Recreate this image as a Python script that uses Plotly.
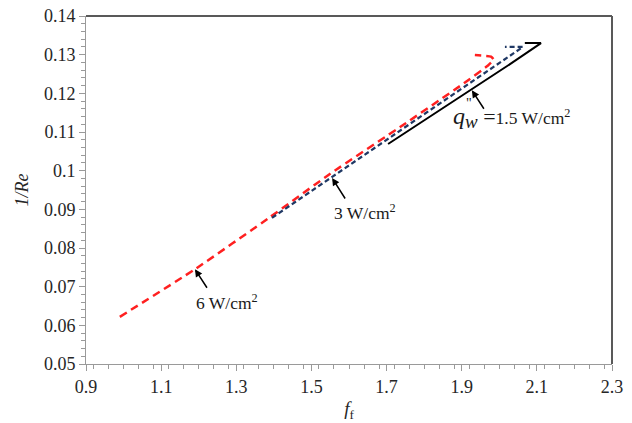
import plotly.graph_objects as go

# friction factor f_f vs 1/Re for three wall heat fluxes
ff_15 = [1.704, 1.80, 1.927, 2.02, 2.111, 2.068]
inv_re_15 = [0.1069, 0.1130, 0.1211, 0.1270, 0.1330, 0.1330]

ff_3 = [1.395, 1.555, 1.70, 1.85, 1.97, 2.063, 2.015]
inv_re_3 = [0.0878, 0.0984, 0.1080, 0.1179, 0.1258, 0.1320, 0.1320]

ff_6 = [0.99, 1.19, 1.39, 1.55, 1.744, 1.90, 1.97, 1.985, 1.978, 1.935]
inv_re_6 = [0.0622, 0.0745, 0.0880, 0.0992, 0.1118, 0.1222, 0.1272, 0.1287, 0.1295, 0.1299]

FONT = "Liberation Serif"

fig = go.Figure()
fig.add_trace(go.Scatter(x=ff_6, y=inv_re_6, mode="lines",
                         line=dict(color="#ff2020", width=2.5, dash="8px,5px", shape="spline", smoothing=0.4)))
fig.add_trace(go.Scatter(x=ff_3, y=inv_re_3, mode="lines",
                         line=dict(color="#1f3864", width=2.2, dash="5px,3px")))
fig.add_trace(go.Scatter(x=ff_15, y=inv_re_15, mode="lines",
                         line=dict(color="black", width=2)))

axis_common = dict(
    showgrid=False, zeroline=False, showline=True, linecolor="#9a9a9a", linewidth=1,
    ticks="outside", ticklen=6, tickcolor="#9a9a9a", automargin=False,
    tickfont=dict(family=FONT, size=18, color="#262626"),
)
fig.update_xaxes(range=[0.9, 2.3], tick0=0.9, dtick=0.2,
                 minor=dict(dtick=0.04, ticks="outside", ticklen=4, tickcolor="#9a9a9a"),
                 title=dict(text="<i>f</i><sub>f</sub>", font=dict(family=FONT, size=19, color="#262626"), standoff=6),
                 **axis_common)
fig.update_yaxes(range=[0.05, 0.14], dtick=0.01, tickformat="~g",
                 minor=dict(dtick=0.002, ticks="outside", ticklen=4, tickcolor="#9a9a9a"),
                 title=dict(text="<i>1/Re</i>", font=dict(family=FONT, size=18, color="#262626"), standoff=10),
                 **axis_common)

# frame on the top and right edges
fig.add_shape(type="line", xref="paper", yref="paper", x0=0, y0=1, x1=1, y1=1,
              line=dict(color="#595959", width=2))
fig.add_shape(type="line", xref="paper", yref="paper", x0=1, y0=0, x1=1, y1=1,
              line=dict(color="#595959", width=2))

arrow = dict(showarrow=True, arrowhead=2, arrowsize=1, arrowwidth=1.5, arrowcolor="black",
             text="", axref="pixel", ayref="pixel")
fig.add_annotation(x=1.19, y=0.0745, ax=13, ay=20, **arrow)
fig.add_annotation(x=1.555, y=0.0981, ax=14, ay=22, **arrow)
fig.add_annotation(x=1.927, y=0.1208, ax=13, ay=20, **arrow)

label_font = dict(family=FONT, size=17.5, color="#1a1a1a")
fig.add_annotation(x=1.275, y=0.0660, text="6 W/cm<sup>2</sup>", showarrow=False, font=label_font)
fig.add_annotation(x=1.643, y=0.0893, text="3 W/cm<sup>2</sup>", showarrow=False, font=label_font)
fig.add_annotation(x=1.872, y=0.1138, xanchor="left",
                   text=("<span style='font-size:24px'><i>q</i></span>"
                         "<sub><span style='font-size:19px'><i>w</i></span></sub>"
                         "<span style='font-size:22px'> =</span>1.5 W/cm<sup>2</sup>"),
                   showarrow=False, font=label_font)
fig.add_annotation(x=1.906, y=0.1175, xanchor="left", text="\"", showarrow=False,
                   font=dict(family=FONT, size=14, color="#1a1a1a"))

fig.update_layout(
    width=632, height=423,
    margin=dict(l=86, r=20, t=16, b=59),
    plot_bgcolor="white", paper_bgcolor="white",
    showlegend=False,
)

fig.write_html("out.html")
